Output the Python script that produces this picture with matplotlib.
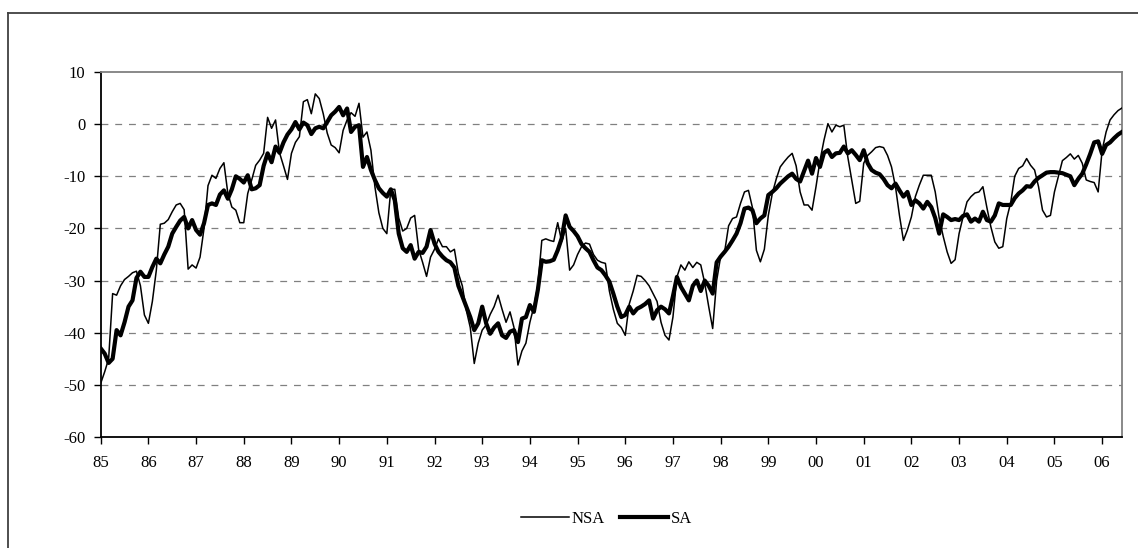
import numpy as np
import matplotlib
matplotlib.use("Agg")
import matplotlib.pyplot as plt
from matplotlib.lines import Line2D

# monthly values, Jan 1985 .. Jun 2006
nsa = [
    -49.7, -47.5, -45.0, -32.5, -32.8, -31.0, -29.8, -29.2, -28.5, -28.2, -31.0, -36.6,   # 85
    -38.2, -34.0, -28.0, -19.2, -19.0, -18.3, -16.8, -15.5, -15.2, -16.4, -27.8, -27.0,   # 86
    -27.6, -25.5, -20.0, -11.8, -9.8, -10.4, -8.5, -7.4, -13.3, -15.9, -16.5, -18.9,      # 87
    -18.9, -13.3, -10.7, -7.9, -6.9, -5.6, 1.3, -0.8, 0.8, -5.5, -8.0, -10.6,             # 88
    -5.6, -3.5, -2.4, 4.3, 4.7, 2.0, 5.8, 4.9, 2.0, -1.7, -4.0, -4.5,                     # 89
    -5.5, -1.2, 0.8, 2.2, 1.5, 4.0, -2.5, -1.5, -5.0, -12.0, -17.0, -20.0,                # 90
    -21.0, -12.5, -12.5, -18.0, -20.5, -20.0, -18.0, -17.5, -24.0, -26.5, -29.2, -25.5,   # 91
    -24.0, -22.0, -23.5, -23.5, -24.5, -24.0, -28.6, -31.0, -35.7, -39.0, -45.9, -42.0,   # 92
    -39.5, -38.5, -36.5, -35.0, -32.8, -35.5, -38.0, -36.0, -39.0, -46.2, -43.5, -42.0,   # 93
    -38.0, -35.0, -31.0, -22.3, -22.0, -22.3, -22.5, -18.9, -22.5, -20.0, -28.0, -27.0,   # 94
    -25.0, -23.5, -22.8, -23.0, -25.0, -26.1, -26.5, -26.7, -32.0, -35.5, -38.2, -39.0,   # 95
    -40.5, -34.5, -32.0, -29.0, -29.2, -30.0, -31.0, -32.5, -34.0, -38.0, -40.5, -41.4,   # 96
    -37.0, -29.3, -27.0, -28.0, -26.4, -27.5, -26.5, -27.0, -30.5, -35.0, -39.2, -30.0,   # 97
    -25.4, -24.5, -19.5, -18.1, -17.8, -15.2, -13.0, -12.7, -16.0, -24.2, -26.4, -24.0,   # 98
    -17.5, -13.3, -10.5, -8.2, -7.2, -6.3, -5.6, -8.0, -13.0, -15.5, -15.5, -16.5,        # 99
    -12.0, -7.0, -3.1, 0.1, -1.5, -0.2, -0.5, -0.2, -6.3, -10.7, -15.2, -14.8,            # 00
    -7.5, -6.0, -5.3, -4.5, -4.3, -4.5, -6.0, -8.2, -12.0, -17.5, -22.3, -20.3,           # 01
    -17.8, -13.9, -11.7, -9.8, -9.8, -9.8, -13.0, -18.0, -21.5, -24.5, -26.7, -26.0,      # 02
    -21.0, -17.8, -14.9, -13.9, -13.2, -13.0, -12.0, -16.0, -19.7, -22.6, -23.8, -23.5,   # 03
    -18.1, -15.0, -10.0, -8.5, -8.0, -6.6, -7.9, -8.8, -12.0, -16.5, -17.8, -17.5,        # 04
    -13.0, -10.0, -7.0, -6.4, -5.7, -6.7, -6.0, -7.5, -10.7, -11.0, -11.2, -13.0,         # 05
    -5.0, -1.5, 0.8, 1.8, 2.6, 3.1,                                                       # 06
]

sa = [
    -43.0, -44.0, -45.8, -45.0, -39.5, -40.5, -38.0, -35.0, -33.8, -29.5, -28.3, -29.3,   # 85
    -29.3, -27.4, -25.8, -26.7, -25.0, -23.5, -21.0, -19.7, -18.5, -17.8, -20.0, -18.4,   # 86
    -20.3, -21.2, -19.0, -15.5, -15.2, -15.5, -13.5, -12.7, -14.3, -12.5, -10.0, -10.5,   # 87
    -11.2, -9.8, -12.5, -12.3, -11.7, -8.0, -5.6, -7.3, -4.3, -5.5, -3.5, -2.0,           # 88
    -1.0, 0.4, -1.0, 0.3, -0.2, -1.9, -0.8, -0.5, -0.8, 0.4, 1.7, 2.4,                    # 89
    3.3, 1.7, 3.0, -1.5, -0.5, -0.2, -8.2, -6.3, -8.8, -10.7, -12.3, -13.2,               # 90
    -13.9, -12.5, -14.6, -21.0, -23.8, -24.5, -23.2, -25.8, -24.5, -24.7, -23.5, -20.3,   # 91
    -22.9, -24.5, -25.4, -26.1, -26.5, -27.5, -31.0, -33.0, -35.0, -37.0, -39.5, -38.2,   # 92
    -35.0, -38.2, -40.2, -39.0, -38.2, -40.5, -41.0, -39.8, -39.5, -41.8, -37.3, -37.0,   # 93
    -34.7, -36.0, -31.8, -26.1, -26.4, -26.3, -26.0, -24.2, -21.9, -17.5, -19.7, -20.5,   # 94
    -21.5, -23.0, -23.8, -24.5, -26.1, -27.5, -28.0, -29.0, -30.2, -32.5, -35.0, -37.0,   # 95
    -36.6, -35.0, -36.3, -35.4, -35.0, -34.5, -33.8, -37.3, -35.7, -35.0, -35.5, -36.3,   # 96
    -33.0, -29.3, -31.2, -32.5, -33.8, -31.0, -30.0, -32.0, -30.0, -31.0, -32.5, -26.5,   # 97
    -25.4, -24.5, -23.5, -22.3, -21.0, -19.0, -16.2, -16.0, -16.5, -19.0, -18.1, -17.5,   # 98
    -13.6, -13.0, -12.3, -11.4, -10.7, -10.0, -9.5, -10.5, -11.0, -9.0, -7.0, -9.5,       # 99
    -6.5, -8.2, -5.5, -5.0, -6.3, -5.6, -5.5, -4.3, -5.6, -5.0, -5.9, -6.9,               # 00
    -5.0, -7.5, -8.8, -9.3, -9.6, -10.5, -11.7, -12.3, -11.4, -12.7, -13.9, -13.0,        # 01
    -15.5, -14.6, -15.2, -16.2, -14.9, -15.9, -18.0, -21.0, -17.3, -17.8, -18.4, -18.2,   # 02
    -18.4, -17.6, -17.3, -18.7, -18.1, -18.7, -16.8, -18.4, -18.7, -17.5, -15.2, -15.5,   # 03
    -15.5, -15.5, -14.2, -13.3, -12.7, -11.9, -12.0, -11.0, -10.3, -9.8, -9.3, -9.2,      # 04
    -9.2, -9.3, -9.4, -9.7, -10.0, -11.7, -10.5, -9.5, -7.7, -5.7, -3.5, -3.3,            # 05
    -5.7, -4.0, -3.5, -2.7, -2.0, -1.5,                                                   # 06
]

year_labels = ["85", "86", "87", "88", "89", "90", "91", "92", "93", "94", "95",
               "96", "97", "98", "99", "00", "01", "02", "03", "04", "05", "06"]
y_ticks = [10, 0, -10, -20, -30, -40, -50, -60]

plt.rcParams['font.family'] = ['Liberation Serif', 'DejaVu Serif']

W, H = 1138, 548
fig = plt.figure(figsize=(W / 100, H / 100), dpi=100)
ax = fig.add_axes([100.7 / W, 1 - 437 / H, (1122 - 100.7) / W, (437 - 72) / H])

x = np.arange(len(nsa))
ax.plot(x, nsa, color='black', lw=1.1, label='NSA', zorder=3)
ax.plot(x, sa, color='black', lw=3.0, label='SA', zorder=4, solid_joinstyle='round')

ax.set_xlim(0, len(nsa) - 1)
ax.set_ylim(-60, 10)
ax.set_yticks(y_ticks)
ax.set_yticklabels([str(v) for v in y_ticks])
ax.set_xticks(np.arange(len(year_labels)) * 12)
ax.set_xticklabels(year_labels)

for v in y_ticks[1:-1]:
    ax.axhline(v, color='#808080', lw=0.9, dashes=(5.5, 5.5), zorder=1)

ax.tick_params(axis='both', direction='out', length=5, width=1, colors='black',
               labelsize=12)
ax.tick_params(axis='y', pad=6)
ax.tick_params(axis='x', pad=8)

ax.spines['left'].set_color('black')
ax.spines['bottom'].set_color('black')
ax.spines['top'].set_color('#808080')
ax.spines['right'].set_color('#808080')
for s in ax.spines.values():
    s.set_linewidth(1.3)

fig.legend(loc='center', bbox_to_anchor=(0.533, 1 - 519 / H), ncol=2, frameon=False,
           fontsize=12, handlelength=2.9, handletextpad=0.15, columnspacing=0.9)

# outer chart border (top and left visible)
bx, by = 8 / W, 1 - 13 / H
fig.add_artist(Line2D([bx, 1], [by, by], transform=fig.transFigure, color='#404040', lw=1.3))
fig.add_artist(Line2D([bx, bx], [0, by], transform=fig.transFigure, color='#404040', lw=1.3))

fig.savefig('out.png', dpi=100)
